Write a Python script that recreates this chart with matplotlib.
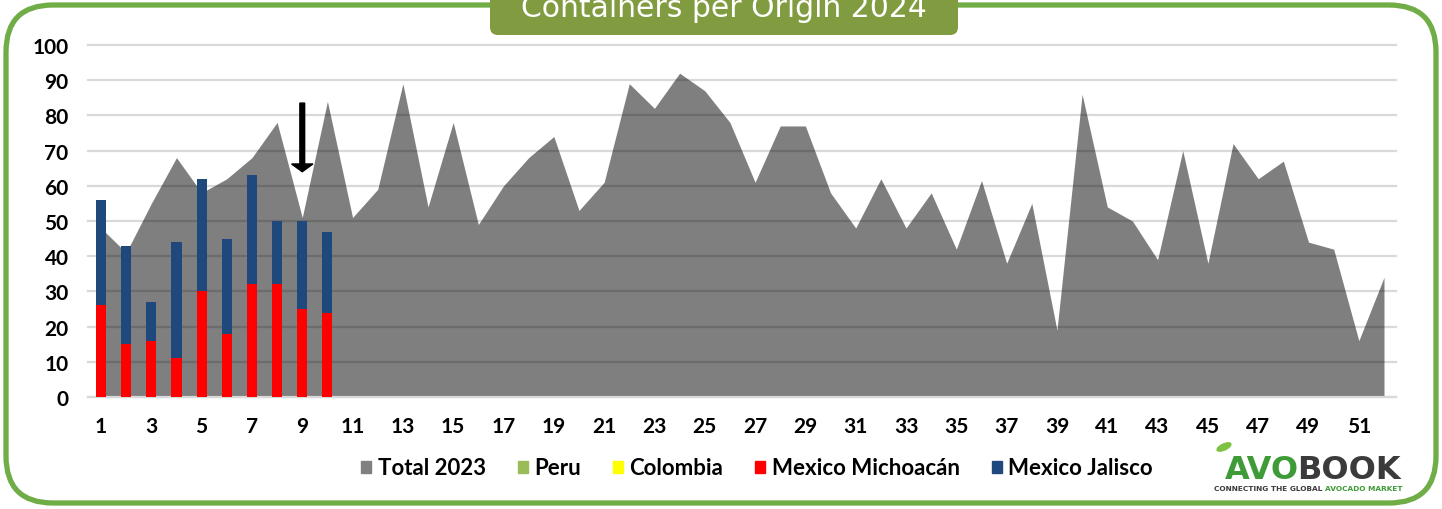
import matplotlib
matplotlib.use("Agg")
import matplotlib.pyplot as plt
from matplotlib.patches import FancyBboxPatch, Patch, Ellipse

plt.rcParams["font.family"] = ["Lato", "DejaVu Sans"]

# Weekly containers
weeks = list(range(1, 53))
total_2023 = [48, 41, 55, 68, 58, 62, 68, 78, 51, 84,
              51, 59, 89, 54, 78, 49, 60, 68, 74, 53,
              61, 89, 82, 92, 87, 78, 61, 77, 77, 58,
              48, 62, 48, 58, 42, 61.5, 38, 55, 19, 86,
              54, 50, 39, 70, 38, 72, 62, 67, 44, 42,
              16, 34]

weeks_2024 = [1, 2, 3, 4, 5, 6, 7, 8, 9, 10]
peru = [0, 0, 0, 0, 0, 0, 0, 0, 0, 0]
colombia = [0, 0, 0, 0, 0, 0, 0, 0, 0, 0]
michoacan = [26, 15, 16, 11, 30, 18, 32, 32, 25, 24]
jalisco = [30, 28, 11, 33, 32, 27, 31, 18, 25, 23]

series_names = ["Total 2023", "Peru", "Colombia", "Mexico Michoacán", "Mexico Jalisco"]
series_colors = ["#808080", "#9bbb59", "#ffff00", "#ff0000", "#1f497d"]

x_ticks = list(range(1, 53, 2))
y_ticks = list(range(0, 101, 10))

# Arrow marking current week
arrow_week = 9
arrow_from = 83.5
arrow_to = 64

W, H = 1442, 510
fig = plt.figure(figsize=(W / 100, H / 100), dpi=100)

# Background layer in pixel units (border, title box, logo)
bg = fig.add_axes([0, 0, 1, 1], zorder=0)
bg.set_xlim(0, W)
bg.set_ylim(H, 0)
bg.axis("off")

bg.add_patch(FancyBboxPatch((6, 6), W - 12, H - 12,
                            boxstyle="round,pad=0,rounding_size=47",
                            fc="white", ec="#70ad47", lw=3.8))
bg.add_patch(FancyBboxPatch((490, -20), 468, 56,
                            boxstyle="round,pad=0,rounding_size=8",
                            fc="#819c40", ec="none"))
bg.text(724, 17, "Containers per Origin 2024", color="white",
        fontsize=21.5, family="DejaVu Sans", ha="center", va="baseline")

# Logo
bg.add_patch(Ellipse((1224, 448), 15, 6, angle=-25, color="#7dc242"))
bg.text(1299, 479, "AVO", color="#3e9b37", fontsize=23, fontweight="heavy",
        family="DejaVu Sans", ha="right", va="baseline")
bg.text(1297, 479, "BOOK", color="#3b3b3b", fontsize=23, fontweight="heavy",
        family="DejaVu Sans", ha="left", va="baseline")
bg.text(1325, 491, "CONNECTING THE GLOBAL ", color="#3b3b3b", fontsize=5.3,
        fontweight="bold", family="DejaVu Sans", ha="right", va="baseline")
bg.text(1325, 491, "AVOCADO MARKET", color="#3e9b37", fontsize=5.3,
        fontweight="bold", family="DejaVu Sans", ha="left", va="baseline")

# Main chart
ax = fig.add_axes([88 / W, 1 - 398 / H, (1396 - 88) / W, (398 - 46) / H], zorder=1)
ax.set_facecolor("none")

ax.fill_between(weeks, total_2023, color="black", alpha=0.5, lw=0, zorder=2)

bottom = [0] * len(weeks_2024)
for vals, col in [(peru, series_colors[1]), (colombia, series_colors[2]),
                  (michoacan, series_colors[3]), (jalisco, series_colors[4])]:
    ax.bar(weeks_2024, vals, bottom=bottom, width=0.4, color=col, zorder=3)
    bottom = [b + v for b, v in zip(bottom, vals)]

ax.arrow(arrow_week, arrow_from, 0, arrow_to - arrow_from, width=0.19,
         head_width=0.85, head_length=2.2, length_includes_head=True,
         color="black", zorder=4)

ax.set_xlim(0.483, 52.477)
ax.set_ylim(0, 100)
ax.set_xticks(x_ticks)
ax.set_yticks(y_ticks)
ax.tick_params(length=0, labelsize=15, pad=14)
for lab in ax.get_xticklabels() + ax.get_yticklabels():
    lab.set_fontweight("bold")

ax.yaxis.grid(True, color="#d9d9d9", lw=1.6, zorder=1)
ax.set_axisbelow(True)
for line in ax.get_ygridlines():
    line.set_clip_on(False)
for side in ["top", "left", "right"]:
    ax.spines[side].set_visible(False)
ax.spines["bottom"].set_color("#d9d9d9")
ax.spines["bottom"].set_linewidth(1.6)

handles = [Patch(color=c) for c in series_colors]
fig.legend(handles, series_names, loc="center", ncol=5, frameon=False,
           bbox_to_anchor=(757 / W, 1 - 469 / H),
           prop={"weight": "bold", "size": 16},
           handlelength=0.45, handleheight=0.45, handletextpad=0.28,
           columnspacing=1.45)

fig.savefig("out.png", dpi=100)
